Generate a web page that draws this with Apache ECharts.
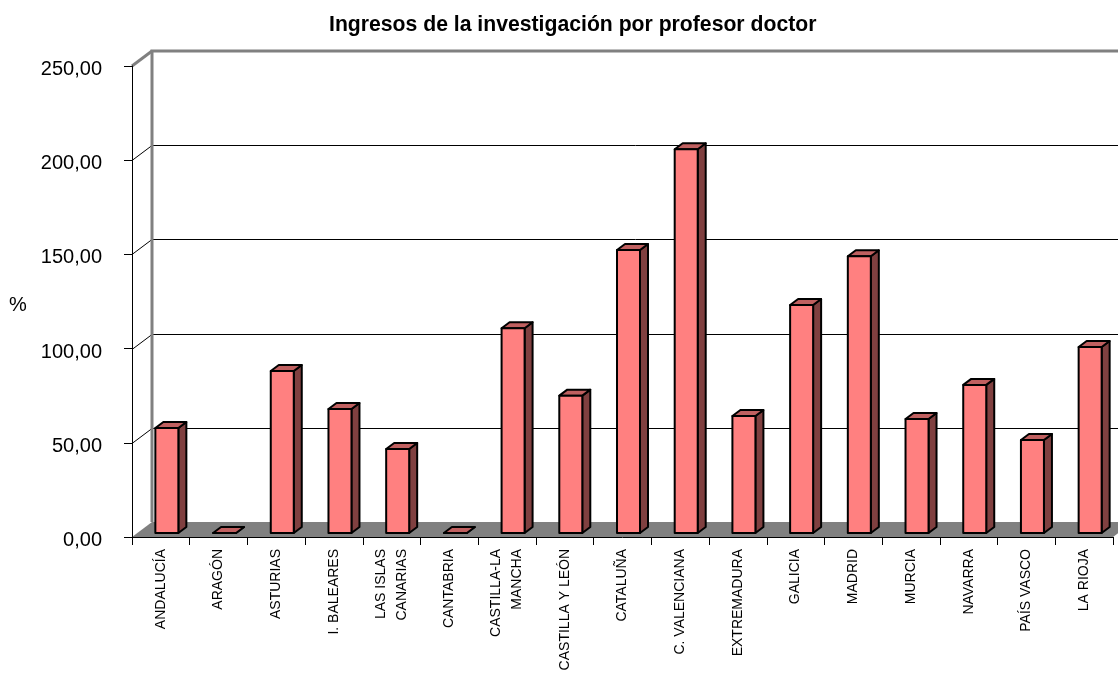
<!DOCTYPE html>
<html>
<head>
<meta charset="utf-8">
<script src="https://cdn.jsdelivr.net/npm/echarts@6/dist/echarts.min.js"></script>
<style>
html,body{margin:0;padding:0;background:#fff;}
#chart{width:1118px;height:677px;}
</style>
</head>
<body>
<div id="chart"></div>
<script>
const titleText = 'Ingresos de la investigación por profesor doctor';
const yAxisName = '%';
const categories = ['ANDALUCÍA','ARAGÓN','ASTURIAS','I. BALEARES','LAS ISLAS\nCANARIAS','CANTABRIA','CASTILLA-LA\nMANCHA','CASTILLA Y LEÓN','CATALUÑA','C. VALENCIANA','EXTREMADURA','GALICIA','MADRID','MURCIA','NAVARRA','PAÍS VASCO','LA RIOJA'];
const values = [55.7, 0, 86.0, 65.8, 44.6, 0, 108.7, 72.9, 150.2, 203.7, 62.1, 121.0, 146.9, 60.5, 78.6, 49.4, 98.7];
const yTicks = [0, 50, 100, 150, 200, 250];

const FONT = '"Liberation Sans", Arial, sans-serif';
const DX = 20, DY = -15;      // depth of the 3D box
const BW = 23;                // bar front width
const BOX = 6, BOY = -4;      // bar offset in depth
const BDX = 8, BDY = -6;      // bar depth

const chart = echarts.init(document.getElementById('chart'), null, {renderer: 'canvas'});

function renderFrame(params, api) {
  const cs = params.coordSys;
  const x0 = cs.x, x1 = cs.x + cs.width, yt = cs.y, yb = cs.y + cs.height;
  const children = [];
  children.push({type: 'polygon', shape: {points: [[x0, yb], [x1, yb], [x1 + DX, yb + DY], [x0 + DX, yb + DY]]},
    style: {fill: '#808080', stroke: null}});
  yTicks.forEach(function (v) {
    if (v === 0 || v === yTicks[yTicks.length - 1]) return;
    const y = Math.round(api.coord([0, v])[1]) + 0.5;
    children.push({type: 'line', shape: {x1: x0 + DX, y1: y + DY, x2: x1 + DX + 10, y2: y + DY}, style: {stroke: '#000', lineWidth: 1}});
    children.push({type: 'line', shape: {x1: x0, y1: y, x2: x0 + DX, y2: y + DY}, style: {stroke: '#000', lineWidth: 1}});
  });
  children.push({type: 'polyline', shape: {points: [[x0 + DX, yb + DY], [x0 + DX, yt + DY], [x1 + DX + 10, yt + DY]]},
    style: {stroke: '#808080', lineWidth: 3, fill: null}});
  children.push({type: 'line', shape: {x1: x0, y1: yt, x2: x0 + DX, y2: yt + DY}, style: {stroke: '#808080', lineWidth: 3}});
  return {type: 'group', children: children};
}

function renderBar(params, api) {
  const i = api.value(0), v = api.value(1);
  const p = api.coord([i, v]);
  const b = api.coord([i, 0]);
  const xl = p[0] - BW / 2 + BOX, xr = xl + BW;
  const yTop = p[1] + BOY, yBot = b[1] + BOY;
  const st = {stroke: '#000', lineWidth: 2, lineJoin: 'round'};
  return {type: 'group', children: [
    {type: 'polygon', shape: {points: [[xr, yBot], [xr + BDX, yBot + BDY], [xr + BDX, yTop + BDY], [xr, yTop]]},
      style: Object.assign({fill: '#804040'}, st)},
    {type: 'polygon', shape: {points: [[xl, yTop], [xr, yTop], [xr + BDX, yTop + BDY], [xl + BDX, yTop + BDY]]},
      style: Object.assign({fill: '#C06060'}, st)},
    {type: 'rect', shape: {x: xl, y: yTop, width: BW, height: yBot - yTop},
      style: Object.assign({fill: '#FF8080'}, st)}
  ]};
}

const option = {
  backgroundColor: '#fff',
  animation: false,
  graphic: [
    {type: 'text', left: 329, top: 15, style: {text: titleText, font: 'bold 21.2px ' + FONT, fill: '#000'}},
    {type: 'text', left: 9, top: 295, style: {text: yAxisName, font: '20px ' + FONT, fill: '#000'}}
  ],
  grid: {left: 132, right: 5, top: 66, bottom: 140, containLabel: false},
  xAxis: {
    type: 'category', data: categories, boundaryGap: true, z: 10,
    axisLine: {show: true, lineStyle: {color: '#000', width: 1}},
    axisTick: {show: true, length: 8, lineStyle: {color: '#000'}, alignWithLabel: false},
    axisLabel: {rotate: 90, interval: 0, margin: 12, fontFamily: FONT, fontSize: 14, color: '#000', lineHeight: 21},
    splitLine: {show: false}
  },
  yAxis: {
    type: 'value', min: 0, max: 250, interval: 50, z: 10,
    axisLine: {show: true, lineStyle: {color: '#000', width: 1}},
    axisTick: {show: true, length: 8, lineStyle: {color: '#000'}},
    axisLabel: {margin: 30, color: '#000',
      formatter: function (v) { return '{v|' + v.toFixed(2).replace('.', ',') + '}'; },
      rich: {v: {fontFamily: FONT, fontSize: 20, color: '#000', padding: [7, 0, 0, 0]}}},
    splitLine: {show: false}
  },
  series: [
    {type: 'custom', renderItem: renderFrame, data: [[0, 0]], z: 1, silent: true, clip: false},
    {type: 'custom', renderItem: renderBar, data: values.map(function (v, i) { return [i, v]; }), z: 3, clip: false,
      encode: {x: 0, y: 1}}
  ]
};
chart.setOption(option);
</script>
</body>
</html>
